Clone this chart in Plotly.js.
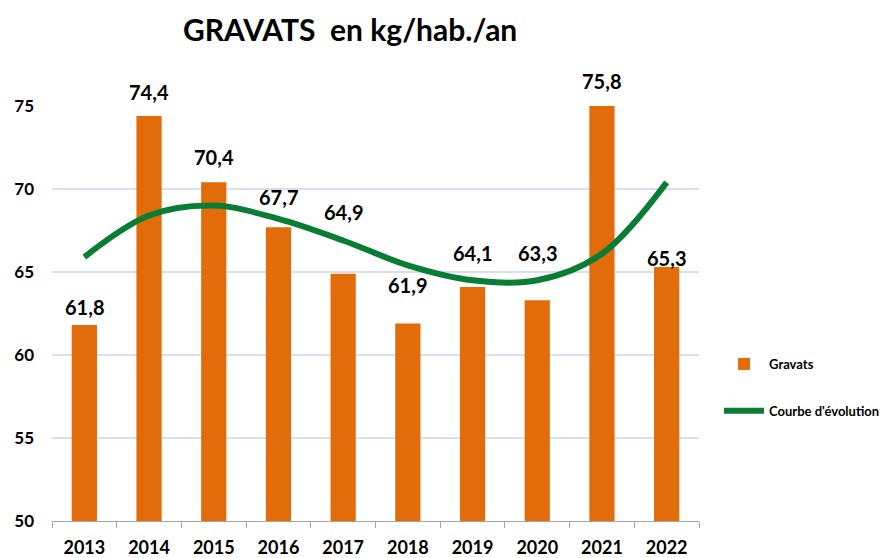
<!DOCTYPE html>
<html>
<head>
<meta charset="utf-8">
<script src="https://cdn.plot.ly/plotly-3.0.1.min.js"></script>
<style>html,body{margin:0;padding:0;background:#fff;}#chart{width:891px;height:558px;}</style>
</head>
<body>
<div id="chart"></div>
<script>
var years = ['2013','2014','2015','2016','2017','2018','2019','2020','2021','2022'];
var gravats = [61.8, 74.4, 70.4, 67.7, 64.9, 61.9, 64.1, 63.3, 75.8, 65.3];
var gravatsLabels = ['61,8','74,4','70,4','67,7','64,9','61,9','64,1','63,3','75,8','65,3'];
var courbe = [65.9, 68.4, 69.0, 68.2, 66.9, 65.4, 64.5, 64.5, 66.1, 70.4];
var yTicks = [50, 55, 60, 65, 70, 75];

// style: extra upward pixel offset of each data label (as placed in the original)
var labelLift = [0, 6, 7, 12, 44, 20, 16, 29, -6, -9];

var FONT = 'Lato, "Open Sans", sans-serif';
var Y_MIN = 50, Y_MAX = 75;

var traces = [
  {
    type: 'bar', name: 'Gravats', x: years, y: gravats,
    marker: {color: '#E36C0A'},
    legendgroup: 'a', hoverinfo: 'x+y'
  },
  {
    type: 'scatter', mode: 'lines', name: "Courbe d'évolution", x: years, y: courbe,
    line: {color: '#0A7D35', width: 6, shape: 'spline', smoothing: 1.0},
    legendgroup: 'b'
  }
];

// labels anchored to the bar value (paper coords so the value above the axis max still shows)
var labelAnnotations = years.map(function (yr, i) {
  return {
    x: i, xref: 'x',
    y: (gravats[i] - Y_MIN) / (Y_MAX - Y_MIN), yref: 'paper',
    text: gravatsLabels[i], showarrow: false,
    xanchor: 'center', yanchor: 'bottom', yshift: 4 + labelLift[i],
    font: {family: FONT, size: 20, color: '#000', weight: 'bold'}
  };
});

var layout = {
  width: 891, height: 558, autosize: false,
  paper_bgcolor: '#fff', plot_bgcolor: '#fff',
  margin: {l: 52, r: 192, t: 106, b: 37},
  title: {
    text: 'GRAVATS\u00a0 en kg/hab./an',
    font: {family: FONT, size: 30, color: '#000', weight: 'bold'},
    x: 0.393, xref: 'container', xanchor: 'center',
    y: 0.945, yref: 'container', yanchor: 'middle'
  },
  bargap: 0.61,
  annotations: labelAnnotations,
  xaxis: {
    type: 'category', categoryarray: years, range: [-0.5, years.length - 0.5],
    tickson: 'boundaries', ticks: 'outside', ticklen: 6,
    tickcolor: '#a6a6a6', showline: true, linecolor: '#a6a6a6', linewidth: 1,
    showgrid: false, automargin: false, ticklabelstandoff: 10,
    tickfont: {family: FONT, size: 18, color: '#000', weight: 'bold'}
  },
  yaxis: {
    range: [Y_MIN, Y_MAX], tickvals: yTicks, ticktext: yTicks.map(String),
    showgrid: true, gridcolor: '#D6E0EE', gridwidth: 1.5, zeroline: false,
    showline: false, ticks: '', automargin: false, ticklabelstandoff: 17,
    tickfont: {family: FONT, size: 17, color: '#000', weight: 'bold'}
  },
  showlegend: true,
  legend: {
    xref: 'container', yref: 'container',
    x: 0.807, y: 1 - 349 / 558, xanchor: 'left', yanchor: 'top',
    font: {family: FONT, size: 13, color: '#000', weight: 'bold'},
    tracegroupgap: 27, itemwidth: 40, bgcolor: 'rgba(0,0,0,0)'
  }
};

Plotly.newPlot('chart', traces, layout, {displayModeBar: false, staticPlot: true});
</script>
</body>
</html>
